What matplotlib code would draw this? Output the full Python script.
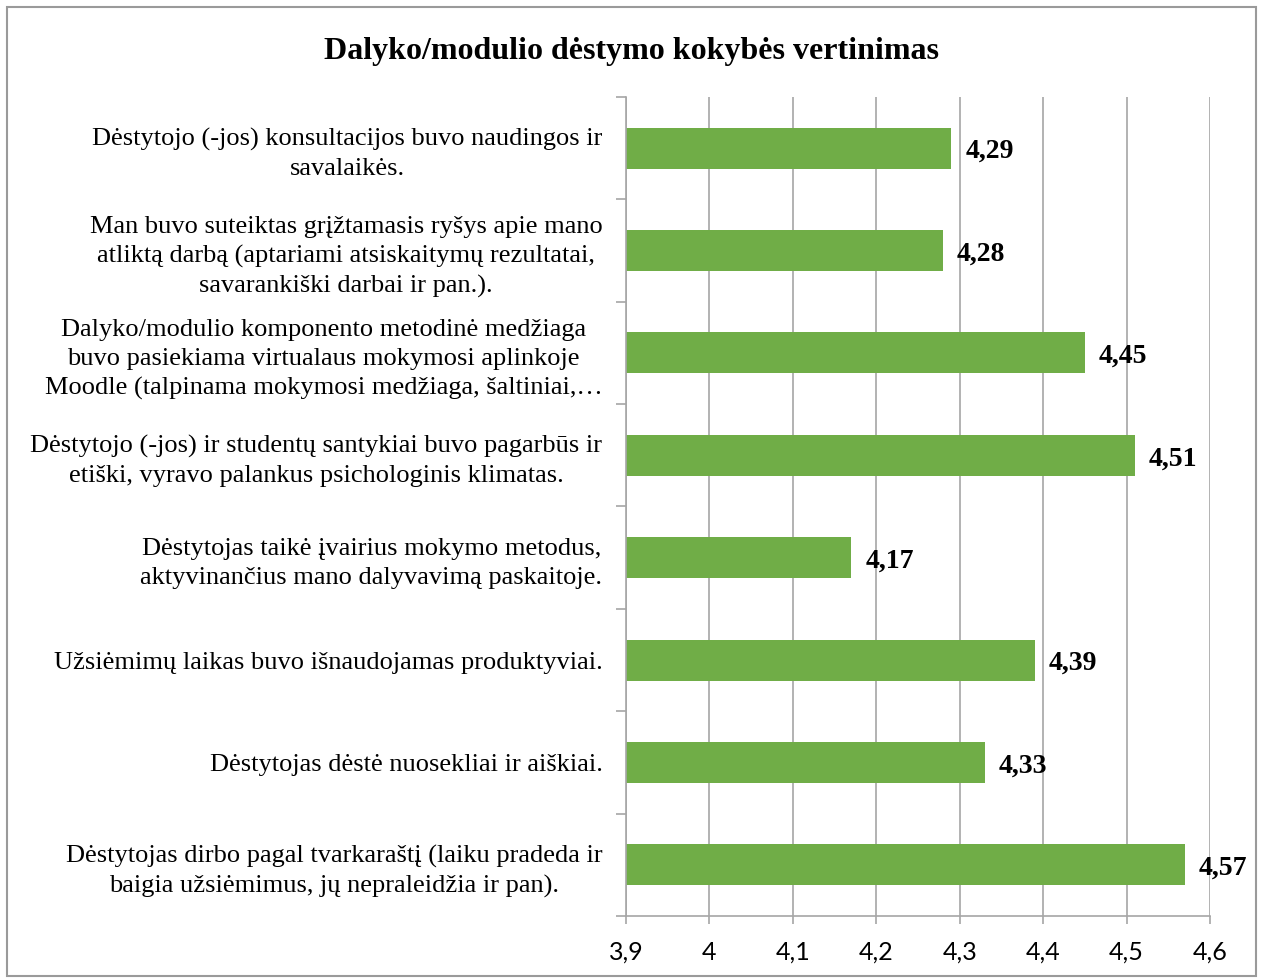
import matplotlib
matplotlib.use("Agg")
import matplotlib.pyplot as plt
import matplotlib.patches as mpatches
import numpy as np

categories = [
    "Dėstytojo (-jos) konsultacijos buvo naudingos ir\nsavalaikės.",
    "Man buvo suteiktas grįžtamasis ryšys apie mano\natliktą darbą (aptariami atsiskaitymų rezultatai,\nsavarankiški darbai ir pan.).",
    "Dalyko/modulio komponento metodinė medžiaga\nbuvo pasiekiama virtualaus mokymosi aplinkoje\nMoodle (talpinama mokymosi medžiaga, šaltiniai,…",
    "Dėstytojo (-jos) ir studentų santykiai buvo pagarbūs ir\netiški, vyravo palankus psichologinis klimatas.",
    "Dėstytojas taikė įvairius mokymo metodus,\naktyvinančius mano dalyvavimą paskaitoje.",
    "Užsiėmimų laikas buvo išnaudojamas produktyviai.",
    "Dėstytojas dėstė nuosekliai ir aiškiai.",
    "Dėstytojas dirbo pagal tvarkaraštį (laiku pradeda ir\nbaigia užsiėmimus, jų nepraleidžia ir pan).",
]
values = [4.29, 4.28, 4.45, 4.51, 4.17, 4.39, 4.33, 4.57]
xticks = [3.9, 4.0, 4.1, 4.2, 4.3, 4.4, 4.5, 4.6]
xticklabels = ["3,9", "4", "4,1", "4,2", "4,3", "4,4", "4,5", "4,6"]

serif = ["Liberation Serif", "DejaVu Serif"]
gridc = "#a6a6a6"

fig = plt.figure(figsize=(12.61, 9.80), dpi=100)
fig.patches.append(mpatches.Rectangle((7/1261, 4/980), 1249/1261, 969/980, transform=fig.transFigure,
                                      fill=False, edgecolor="#9a9a9a", linewidth=1.5))
ax = fig.add_axes([626/1261, 1-916/980, 584/1261, 819/980])

y = np.arange(len(values))
ax.barh(y, values, height=0.4, left=0, color="#70ad47")
ax.set_xlim(3.9, 4.6)
ax.set_ylim(len(values)-0.5, -0.5)

ax.set_xticks(xticks)
ax.set_xticklabels(xticklabels, fontsize=18, family=["Lato", "DejaVu Sans"])
ax.tick_params(axis="x", length=6, color=gridc, width=1.2, pad=12)
ax.grid(axis="x", color=gridc, linewidth=1.2)
ax.set_axisbelow(True)

ax.set_yticks(y)
ax.set_yticklabels(categories, fontsize=19, family=serif, linespacing=1.4, ha="right", ma="center")
ax.tick_params(axis="y", which="major", length=0, pad=17)
ax.set_yticks(np.arange(len(values)+1)-0.5, minor=True)
ax.tick_params(axis="y", which="minor", length=7, color=gridc, width=1.2)

for s in ["top", "right"]:
    ax.spines[s].set_visible(False)
for s in ["left", "bottom"]:
    ax.spines[s].set_color(gridc)
    ax.spines[s].set_linewidth(1.2)

for yi, v in zip(y, values):
    ax.annotate(("%.2f" % v).replace(".", ","), (v, yi), xytext=(10, -2.5), textcoords="offset points",
                va="center", ha="left", fontsize=20, fontweight="bold", family=serif)

fig.text(632/1261, 1-51/980, "Dalyko/modulio dėstymo kokybės vertinimas", ha="center", va="center",
         fontsize=23, fontweight="bold", family=serif)

plt.savefig("out.png", dpi=100)
